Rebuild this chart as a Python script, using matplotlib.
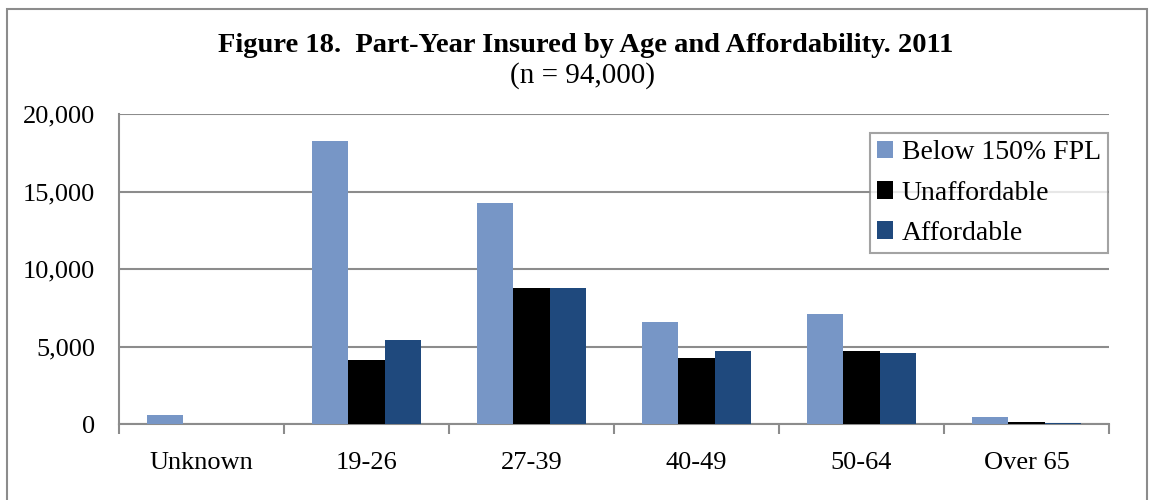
import numpy as np
import matplotlib
matplotlib.use('Agg')
import matplotlib.pyplot as plt
from matplotlib.patches import Rectangle

plt.rcParams['font.family'] = ['Liberation Serif', 'DejaVu Serif']

categories = ['Unknown', '19-26', '27-39', '40-49', '50-64', 'Over 65']
below_fpl = [580, 18270, 14240, 6570, 7090, 450]
unaffordable = [0, 4150, 8800, 4270, 4720, 170]
affordable = [0, 5430, 8810, 4720, 4580, 90]
series_names = ['Below 150% FPL', 'Unaffordable', 'Affordable']
colors = ['#7796C6', '#000000', '#1F497D']

fig = plt.figure(figsize=(11.51, 5.0), dpi=100)
ax = fig.add_axes([119/1151, 1-424.3/500, 990/1151, 310.3/500])

x = np.arange(len(categories))
w = 0.222
for i, (vals, name, c) in enumerate(zip([below_fpl, unaffordable, affordable], series_names, colors)):
    ax.bar(x + (i-1)*w, vals, w, color=c, label=name, zorder=3)

gray = '#8c8c8c'
ax.set_xlim(-0.5, len(categories)-0.5)
ax.set_ylim(0, 20000)
ax.set_yticks(np.arange(0, 20001, 5000))
ax.set_yticklabels(['{:,}'.format(v) for v in range(0, 20001, 5000)])
ax.yaxis.grid(True, color=gray, lw=1.5, zorder=0)
ax.set_xticks(x)
ax.set_xticklabels(categories)
ax.set_xticks(np.arange(-0.5, len(categories), 1), minor=True)
ax.tick_params(axis='x', which='major', length=0, pad=20, labelsize=19)
ax.tick_params(axis='x', which='minor', length=7, width=1.5, color=gray, direction='out')
ax.tick_params(axis='y', length=0, pad=17, labelsize=19)
for s in ['top', 'right']:
    ax.spines[s].set_visible(False)
for s in ['left', 'bottom']:
    ax.spines[s].set_color(gray)
    ax.spines[s].set_linewidth(1.5)

leg = ax.legend(loc='upper right', bbox_to_anchor=(1107.7/1151, 1-133.3/500),
                bbox_transform=fig.transFigure, fontsize=20, frameon=True,
                fancybox=False, edgecolor=gray, handlelength=0.6, handleheight=0.6,
                handletextpad=0.3, labelspacing=0.55, borderpad=0.25, borderaxespad=0)
leg.get_frame().set_linewidth(1.5)

fig.text(586/1151, 1-45/500, 'Figure 18.  Part-Year Insured by Age and Affordability. 2011',
         ha='center', va='center', fontsize=20.5, fontweight='bold')
fig.text(583/1151, 1-76/500, '(n = 94,000)', ha='center', va='center', fontsize=21)

fig.patches.append(Rectangle((7/1151, -0.05), 1140/1151, 1.05-9/500, transform=fig.transFigure,
                             fill=False, edgecolor=gray, lw=1.5))

fig.savefig('out.png', dpi=100)
